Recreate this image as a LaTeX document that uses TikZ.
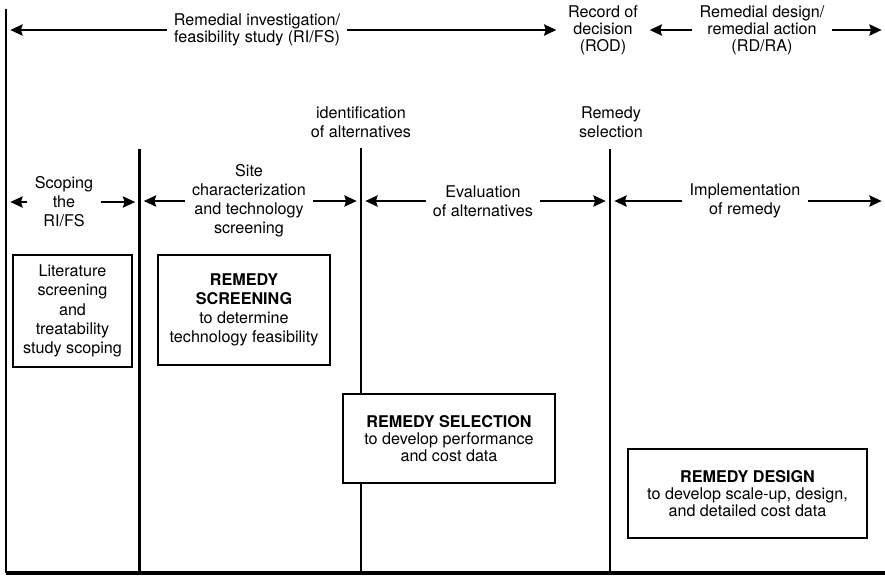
\documentclass[tikz,border=0pt]{standalone}
\usepackage{fontspec}
\setmainfont{TeX Gyre Heros}
\usetikzlibrary{arrows.meta,positioning,calc}

\begin{document}
\begin{tikzpicture}[x=0.02cm,y=-0.02cm,>={Stealth[length=7pt,width=6.5pt,inset=1pt]},
  lbl/.style={align=center,inner xsep=4pt,inner ysep=1pt,font=\fontsize{9.2}{10.8}\selectfont},
  toplbl/.style={lbl,font=\fontsize{9.2}{9.7}\selectfont},
  box/.style={draw,fill=white,line width=0.9pt,align=center,inner sep=0pt,font=\fontsize{9.2}{10.9}\selectfont},
  tightbox/.style={box,font=\fontsize{9.2}{9.7}\selectfont},
  arr/.style={->,line width=0.6pt,shorten >=2.5pt},
  phase/.style={line width=1.5pt}]
\useasboundingbox (0,0) rectangle (885,576);
% phase boundaries
\coordinate (l0t) at (6,9);
\coordinate (l0b) at (6,573);
\coordinate (l1t) at (139.5,149);
\coordinate (l1b) at (139.5,573);
\coordinate (l2t) at (361,148);
\coordinate (l2b) at (361,573);
\coordinate (l3t) at (610,149);
\coordinate (l3b) at (610,573);
\coordinate (br) at (885,573);
\coordinate (rr) at (886,0);
\draw[phase] (l0t) -- (l0b);
\draw[phase] (l1t) -- (l1b);
\draw[phase] (l2t) -- (l2b);
\draw[phase] (l3t) -- (l3b);
\draw[line width=2.3pt] (l0b) -- (br);

% top row
\node[toplbl] (rifs) at (257,30) {Remedial investigation/\\feasibility study (RI/FS)};
\node[toplbl] (rod) at (603,30) {Record of\\decision\\(ROD)};
\node[toplbl] (rdra) at (762,30) {Remedial design/\\remedial action\\(RD/RA)};
\node[lbl] (idalt) at (361,122) {identification\\of alternatives};
\node[lbl] (remsel) at (611,122) {Remedy\\selection};

% phases
\node[lbl] (scope) at (64,202) {Scoping\\the\\RI/FS};
\node[lbl] (site) at (249,201) {Site\\characterization\\and technology\\screening};
\node[lbl] (evalalt) at (483,201) {Evaluation\\of alternatives};
\node[lbl] (impl) at (745,201) {Implementation\\of remedy};

\draw[arr] (rifs) -- (rifs -| l0t);
\draw[arr] (rifs) -- (rod);
\draw[arr] (rdra) -- (rod);
\draw[arr] (rdra) -- (rdra -| rr);
\draw[arr] (scope) -- (scope -| l0t);
\draw[arr] (scope) -- (scope -| l1t);
\draw[arr] (site) -- (site -| l1t);
\draw[arr] (site) -- (site -| l2t);
\draw[arr] (evalalt) -- (evalalt -| l2t);
\draw[arr] (evalalt) -- (evalalt -| l3t);
\draw[arr] (impl) -- (impl -| l3t);
\draw[arr] (impl) -- (impl -| rr);

% boxes
\node[box,minimum width=2.38cm,minimum height=2.24cm] (lit) at (72.5,311)
  {Literature\\screening\\and\\treatability\\study scoping};
\node[box,minimum width=3.44cm,minimum height=2.2cm] (scr) at (244,310)
  {\textbf{REMEDY}\\\textbf{SCREENING}\\to determine\\technology feasibility};
\node[tightbox,minimum width=4.24cm,minimum height=1.78cm] (sel) at (449,438.5)
  {\textbf{REMEDY SELECTION}\\to develop performance\\and cost data};
\node[tightbox,minimum width=4.78cm,minimum height=1.78cm] (des) at (747.5,493.5)
  {\textbf{REMEDY DESIGN}\\to develop scale-up, design,\\and detailed cost data};
\end{tikzpicture}
\end{document}
